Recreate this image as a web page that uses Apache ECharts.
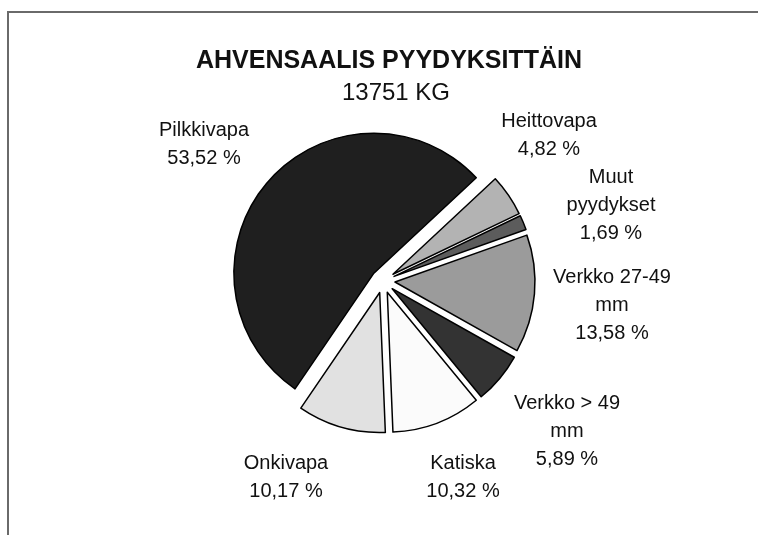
<!DOCTYPE html>
<html>
<head>
<meta charset="utf-8">
<script src="https://cdn.jsdelivr.net/npm/echarts@6/dist/echarts.min.js"></script>
<style>
  html, body { margin: 0; padding: 0; background: #fff; }
  #chart { width: 758px; height: 535px; }
</style>
</head>
<body>
<div id="chart"></div>
<script>
const TITLE = 'AHVENSAALIS PYYDYKSITTÄIN';
const SUBTITLE = '13751 KG';

// slices in clockwise order, starting at the Pilkkivapa edge
const categories = [
  'Pilkkivapa',
  'Heittovapa',
  'Muut\npyydykset',
  'Verkko 27-49\nmm',
  'Verkko > 49\nmm',
  'Katiska',
  'Onkivapa',
];
const shares = [53.52, 4.82, 1.69, 13.58, 5.89, 10.32, 10.17];

const SLICE_COLORS = ['#1f1f1f', '#b3b3b3', '#5c5c5c', '#9b9b9b', '#333333', '#fbfbfb', '#e1e1e1'];
// label centres (text sits free of the slices, no leader lines)
const LABEL_CENTERS = [
  [204, 144],
  [549, 135],
  [611, 205],
  [612, 305],
  [567, 431],
  [463, 477],
  [286, 477],
];

const FONT = '"Liberation Sans", Arial, sans-serif';
const PIE_CENTER = [383, 281];
const PIE_RADIUS = 140;
const START_ANGLE = 235.7;

function formatShare(value) {
  return value.toFixed(2).replace('.', ',') + ' %';
}

const chart = echarts.init(document.getElementById('chart'), null, { renderer: 'canvas' });

chart.setOption({
  animation: false,
  backgroundColor: '#ffffff',
  title: [
    {
      text: TITLE,
      left: 384,
      top: 44,
      textAlign: 'center',
      textStyle: { fontFamily: FONT, fontSize: 25, fontWeight: 'bold', color: '#111' },
    },
    {
      text: SUBTITLE,
      left: 391,
      top: 76,
      textAlign: 'center',
      textStyle: { fontFamily: FONT, fontSize: 24, fontWeight: 'normal', color: '#111' },
    },
  ],
  graphic: [
    {
      type: 'polyline',
      silent: true,
      shape: { points: [[8, 535], [8, 12], [758, 12]] },
      style: { stroke: '#6a6a6a', lineWidth: 2, fill: null },
    },
  ],
  series: [
    {
      // the exploded slices
      type: 'pie',
      center: PIE_CENTER,
      radius: [0, PIE_RADIUS],
      startAngle: START_ANGLE,
      clockwise: true,
      selectedMode: 'multiple',
      selectedOffset: 12,
      silent: true,
      itemStyle: { borderColor: '#000', borderWidth: 1.5 },
      select: { itemStyle: { borderColor: '#000', borderWidth: 1.5 } },
      label: { show: false },
      labelLine: { show: false },
      data: categories.map((name, i) => ({
        name,
        value: shares[i],
        selected: true,
        itemStyle: { color: SLICE_COLORS[i] },
        select: { itemStyle: { color: SLICE_COLORS[i] } },
      })),
    },
    {
      // same shares again, invisible, only carrying the labels
      type: 'pie',
      center: PIE_CENTER,
      radius: [0, PIE_RADIUS],
      startAngle: START_ANGLE,
      clockwise: true,
      silent: true,
      avoidLabelOverlap: false,
      itemStyle: { color: 'rgba(0,0,0,0)', borderWidth: 0 },
      label: {
        show: true,
        position: 'outside',
        fontFamily: FONT,
        fontSize: 20,
        lineHeight: 28,
        color: '#111',
        align: 'center',
        formatter: (p) => `${p.name}\n${formatShare(p.value)}`,
      },
      labelLine: { show: false },
      labelLayout: (params) => {
        const pos = LABEL_CENTERS[params.dataIndex];
        return { x: pos[0], y: pos[1], align: 'center', verticalAlign: 'middle' };
      },
      data: categories.map((name, i) => ({ name, value: shares[i] })),
    },
  ],
});
</script>
</body>
</html>
